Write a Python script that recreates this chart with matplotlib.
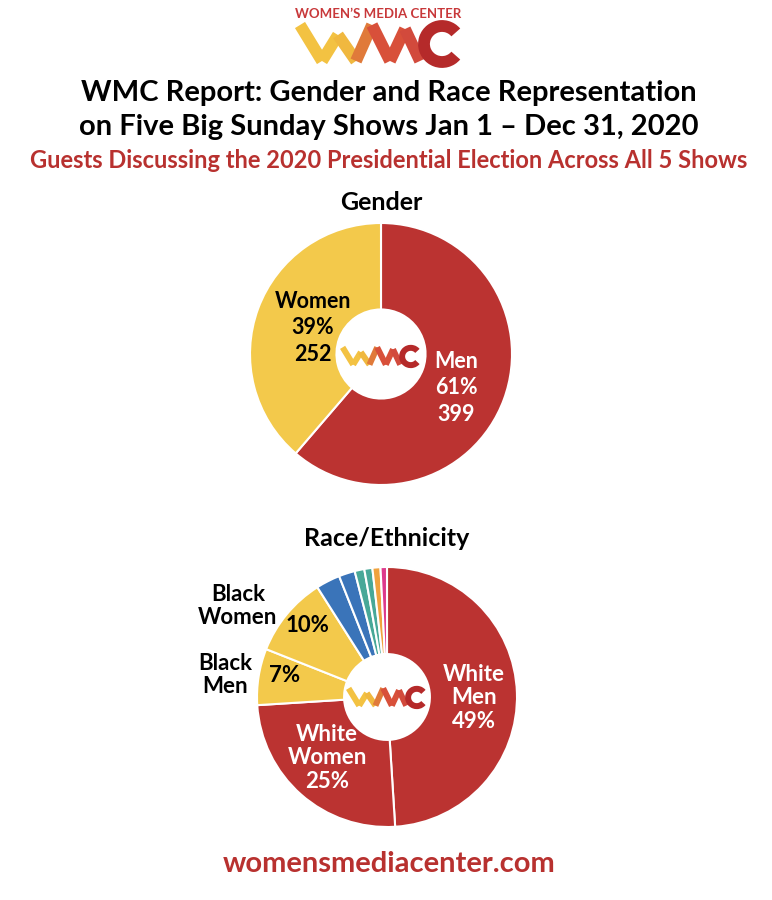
import matplotlib
matplotlib.use("Agg")
import matplotlib.pyplot as plt
import numpy as np
from matplotlib.patches import Arc

plt.rcParams['font.family'] = ['Lato', 'DejaVu Sans']

# data
gender_labels = ["Men", "Women"]
gender_counts = [399, 252]
gender_pcts = [61, 39]

race_labels = ["White Men", "White Women", "Black Men", "Black Women",
               "Asian Men", "Asian Women", "Latino Men", "Latina Women",
               "Middle Eastern", "Other"]
race_pcts = [49, 25, 7, 10, 3, 2, 1.2, 1, 1, 0.8]

RED = "#bb3331"
YELLOW = "#f3c94b"
BLUE = "#3a74b9"
TEAL = "#48a898"
ORANGE = "#f0a23e"
PINK = "#dd3a8c"
race_colors = [RED, RED, YELLOW, YELLOW, BLUE, BLUE, TEAL, TEAL, ORANGE, PINK]

W, H = 772, 900
fig = plt.figure(figsize=(W / 100, H / 100), dpi=100)


def pie_axes(cx, cy, r):
    return fig.add_axes([(cx - r) / W, 1 - (cy + r) / H, 2 * r / W, 2 * r / H])


# gender pie
ax1 = pie_axes(381, 354, 131)
ax1.pie(gender_counts, colors=[RED, YELLOW], startangle=90, counterclock=False,
        radius=1, wedgeprops=dict(width=0.66, edgecolor="white", linewidth=1.5))
ax1.set_xlim(-1, 1)
ax1.set_ylim(-1, 1)
ax1.axis("off")

# race pie
ax2 = pie_axes(387, 697, 130)
ax2.pie(race_pcts, colors=race_colors, startangle=90, counterclock=False,
        radius=1, wedgeprops=dict(width=0.67, edgecolor="white", linewidth=1.5))
ax2.set_xlim(-1, 1)
ax2.set_ylim(-1, 1)
ax2.axis("off")

# overlay in pixel coords
ov = fig.add_axes([0, 0, 1, 1], facecolor="none")
ov.set_xlim(0, W)
ov.set_ylim(H, 0)
ov.axis("off")


def draw_logo(cx, cy, s, lw):
    pts = [(300, 24), (322, 60), (338, 34), (356, 60), (372, 24),
           (390, 60), (405, 28), (420, 60)]
    cols = ["#f3c242", "#f3c242", "#f0b83f", "#e07a3a", "#d8503a", "#d8503a", "#d24a3c"]
    pts = [((x - 380) * s + cx, (y - 42) * s + cy) for x, y in pts]
    for i in range(len(pts) - 1):
        (x0, y0), (x1, y1) = pts[i], pts[i + 1]
        ov.plot([x0, x1], [y0, y1], color=cols[i], lw=lw, solid_capstyle="butt", zorder=5)
    ov.add_patch(Arc(((442 - 380) * s + cx, (43 - 42) * s + cy), 36 * s, 36 * s,
                     theta1=40, theta2=320, color="#b52a2a", lw=lw, zorder=5))


ov.text(378, 14, "WOMEN\u2019S MEDIA CENTER", color="#c8383a", fontsize=9.5,
        fontweight="bold", ha="center", va="center")
draw_logo(380, 43, 1.0, 8.5)
draw_logo(381, 356, 0.48, 4.3)
draw_logo(387, 697, 0.48, 4.3)

ov.text(389, 93, "WMC Report: Gender and Race Representation", fontsize=21,
        fontweight="bold", ha="center", va="center", color="black")
ov.text(389, 127, "on Five Big Sunday Shows Jan 1 \u2013 Dec 31, 2020", fontsize=21,
        fontweight="bold", ha="center", va="center", color="black")
ov.text(389, 160, "Guests Discussing the 2020 Presidential Election Across All 5 Shows",
        fontsize=17, fontweight="bold", ha="center", va="center", color="#b8312f")

ov.text(381, 203, "Gender", fontsize=18, fontweight="bold", ha="center", va="center")
ov.text(387, 538, "Race/Ethnicity", fontsize=18, fontweight="bold", ha="center", va="center")

ov.text(313, 328, f"{gender_labels[1]}\n{gender_pcts[1]}%\n{gender_counts[1]}",
        fontsize=15.5, fontweight="bold", ha="center", va="center",
        color="black", linespacing=1.32)
ov.text(456, 388, f"{gender_labels[0]}\n{gender_pcts[0]}%\n{gender_counts[0]}",
        fontsize=15.5, fontweight="bold", ha="center", va="center",
        color="white", linespacing=1.32)

ov.text(474, 698, "White\nMen\n49%", fontsize=16, fontweight="bold", ha="center",
        va="center", color="white", linespacing=1.14)
ov.text(327, 758, "White\nWomen\n25%", fontsize=16, fontweight="bold", ha="center",
        va="center", color="white", linespacing=1.14)
ov.text(285, 675, "7%", fontsize=16, fontweight="bold", ha="center", va="center")
ov.text(307, 625, "10%", fontsize=16, fontweight="bold", ha="center", va="center")
ov.text(238, 606, "Black\nWomen", fontsize=16, fontweight="bold", ha="center",
        va="center", linespacing=1.12)
ov.text(225, 675, "Black\nMen", fontsize=16, fontweight="bold", ha="center",
        va="center", linespacing=1.12)

ov.text(389, 864, "womensmediacenter.com", fontsize=21, fontweight="bold",
        ha="center", va="center", color="#b8312f")

fig.savefig("out.png", dpi=100)
